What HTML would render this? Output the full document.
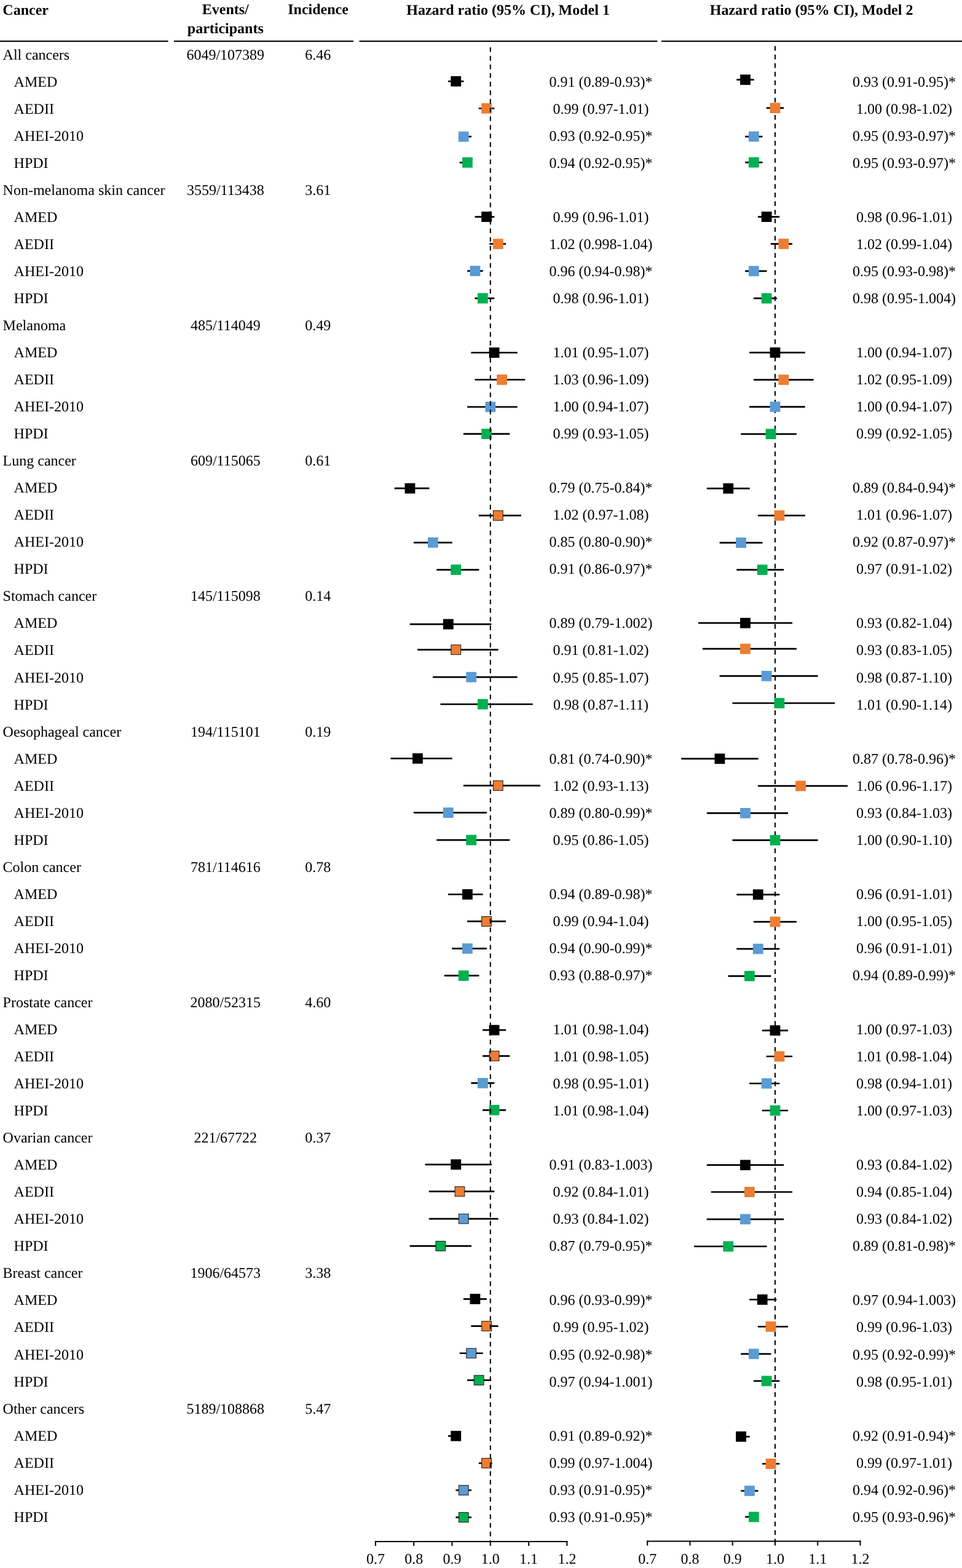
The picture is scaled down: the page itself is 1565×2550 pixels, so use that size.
<!DOCTYPE html>
<html><head><meta charset="utf-8"><title>Forest plot</title>
<style>
html,body{margin:0;padding:0;background:#fff;}
body{width:1565px;height:2550px;overflow:hidden;}
svg{display:block;}
text{text-rendering:geometricPrecision;}
text{font-family:"Liberation Serif","Times New Roman",serif;font-size:24.0px;fill:#000;}
.b{font-weight:bold;font-size:24.0px;}
.m{text-anchor:middle;}
</style></head><body>
<svg width="1565" height="2550" viewBox="0 0 1565 2550">
<rect width="1565" height="2550" fill="#fff"/>

<text class="b" x="4.3" y="23.7">Cancer</text>
<text class="b m" x="366.8" y="23.4">Events/</text>
<text class="b m" x="366.8" y="53.8">participants</text>
<text class="b m" x="517.6" y="23.4">Incidence</text>
<text class="b m" x="826.6" y="23.5">Hazard ratio (95% CI), Model 1</text>
<text class="b m" x="1320.1" y="23.5">Hazard ratio (95% CI), Model 2</text>
<rect x="0" y="66" width="273.5" height="2" fill="#000"/>
<rect x="283" y="66" width="292" height="2" fill="#000"/>
<rect x="584.5" y="66" width="485.0" height="2" fill="#000"/>
<rect x="1076" y="66" width="489" height="2" fill="#000"/>
<text x="4.6" y="96.60">All cancers</text>
<text class="m" x="366.8" y="96.60">6049/107389</text>
<text class="m" x="517.2" y="96.60">6.46</text>
<text x="22.6" y="140.64">AMED</text>
<text class="m" x="977.5" y="140.64">0.91 (0.89-0.93)*</text>
<text class="m" x="1471.0" y="140.64">0.93 (0.91-0.95)*</text>
<text x="22.6" y="184.68">AEDII</text>
<text class="m" x="977.5" y="184.68">0.99 (0.97-1.01)</text>
<text class="m" x="1471.0" y="184.68">1.00 (0.98-1.02)</text>
<text x="22.6" y="228.72">AHEI-2010</text>
<text class="m" x="977.5" y="228.72">0.93 (0.92-0.95)*</text>
<text class="m" x="1471.0" y="228.72">0.95 (0.93-0.97)*</text>
<text x="22.6" y="272.76">HPDI</text>
<text class="m" x="977.5" y="272.76">0.94 (0.92-0.95)*</text>
<text class="m" x="1471.0" y="272.76">0.95 (0.93-0.97)*</text>
<text x="4.6" y="316.80">Non-melanoma skin cancer</text>
<text class="m" x="366.8" y="316.80">3559/113438</text>
<text class="m" x="517.2" y="316.80">3.61</text>
<text x="22.6" y="360.84">AMED</text>
<text class="m" x="977.5" y="360.84">0.99 (0.96-1.01)</text>
<text class="m" x="1471.0" y="360.84">0.98 (0.96-1.01)</text>
<text x="22.6" y="404.88">AEDII</text>
<text class="m" x="977.5" y="404.88">1.02 (0.998-1.04)</text>
<text class="m" x="1471.0" y="404.88">1.02 (0.99-1.04)</text>
<text x="22.6" y="448.92">AHEI-2010</text>
<text class="m" x="977.5" y="448.92">0.96 (0.94-0.98)*</text>
<text class="m" x="1471.0" y="448.92">0.95 (0.93-0.98)*</text>
<text x="22.6" y="492.96">HPDI</text>
<text class="m" x="977.5" y="492.96">0.98 (0.96-1.01)</text>
<text class="m" x="1471.0" y="492.96">0.98 (0.95-1.004)</text>
<text x="4.6" y="537.00">Melanoma</text>
<text class="m" x="366.8" y="537.00">485/114049</text>
<text class="m" x="517.2" y="537.00">0.49</text>
<text x="22.6" y="581.04">AMED</text>
<text class="m" x="977.5" y="581.04">1.01 (0.95-1.07)</text>
<text class="m" x="1471.0" y="581.04">1.00 (0.94-1.07)</text>
<text x="22.6" y="625.08">AEDII</text>
<text class="m" x="977.5" y="625.08">1.03 (0.96-1.09)</text>
<text class="m" x="1471.0" y="625.08">1.02 (0.95-1.09)</text>
<text x="22.6" y="669.12">AHEI-2010</text>
<text class="m" x="977.5" y="669.12">1.00 (0.94-1.07)</text>
<text class="m" x="1471.0" y="669.12">1.00 (0.94-1.07)</text>
<text x="22.6" y="713.16">HPDI</text>
<text class="m" x="977.5" y="713.16">0.99 (0.93-1.05)</text>
<text class="m" x="1471.0" y="713.16">0.99 (0.92-1.05)</text>
<text x="4.6" y="757.20">Lung cancer</text>
<text class="m" x="366.8" y="757.20">609/115065</text>
<text class="m" x="517.2" y="757.20">0.61</text>
<text x="22.6" y="801.24">AMED</text>
<text class="m" x="977.5" y="801.24">0.79 (0.75-0.84)*</text>
<text class="m" x="1471.0" y="801.24">0.89 (0.84-0.94)*</text>
<text x="22.6" y="845.28">AEDII</text>
<text class="m" x="977.5" y="845.28">1.02 (0.97-1.08)</text>
<text class="m" x="1471.0" y="845.28">1.01 (0.96-1.07)</text>
<text x="22.6" y="889.32">AHEI-2010</text>
<text class="m" x="977.5" y="889.32">0.85 (0.80-0.90)*</text>
<text class="m" x="1471.0" y="889.32">0.92 (0.87-0.97)*</text>
<text x="22.6" y="933.36">HPDI</text>
<text class="m" x="977.5" y="933.36">0.91 (0.86-0.97)*</text>
<text class="m" x="1471.0" y="933.36">0.97 (0.91-1.02)</text>
<text x="4.6" y="977.40">Stomach cancer</text>
<text class="m" x="366.8" y="977.40">145/115098</text>
<text class="m" x="517.2" y="977.40">0.14</text>
<text x="22.6" y="1021.44">AMED</text>
<text class="m" x="977.5" y="1021.44">0.89 (0.79-1.002)</text>
<text class="m" x="1471.0" y="1021.44">0.93 (0.82-1.04)</text>
<text x="22.6" y="1065.48">AEDII</text>
<text class="m" x="977.5" y="1065.48">0.91 (0.81-1.02)</text>
<text class="m" x="1471.0" y="1065.48">0.93 (0.83-1.05)</text>
<text x="22.6" y="1109.52">AHEI-2010</text>
<text class="m" x="977.5" y="1109.52">0.95 (0.85-1.07)</text>
<text class="m" x="1471.0" y="1109.52">0.98 (0.87-1.10)</text>
<text x="22.6" y="1153.56">HPDI</text>
<text class="m" x="977.5" y="1153.56">0.98 (0.87-1.11)</text>
<text class="m" x="1471.0" y="1153.56">1.01 (0.90-1.14)</text>
<text x="4.6" y="1197.60">Oesophageal cancer</text>
<text class="m" x="366.8" y="1197.60">194/115101</text>
<text class="m" x="517.2" y="1197.60">0.19</text>
<text x="22.6" y="1241.64">AMED</text>
<text class="m" x="977.5" y="1241.64">0.81 (0.74-0.90)*</text>
<text class="m" x="1471.0" y="1241.64">0.87 (0.78-0.96)*</text>
<text x="22.6" y="1285.68">AEDII</text>
<text class="m" x="977.5" y="1285.68">1.02 (0.93-1.13)</text>
<text class="m" x="1471.0" y="1285.68">1.06 (0.96-1.17)</text>
<text x="22.6" y="1329.72">AHEI-2010</text>
<text class="m" x="977.5" y="1329.72">0.89 (0.80-0.99)*</text>
<text class="m" x="1471.0" y="1329.72">0.93 (0.84-1.03)</text>
<text x="22.6" y="1373.76">HPDI</text>
<text class="m" x="977.5" y="1373.76">0.95 (0.86-1.05)</text>
<text class="m" x="1471.0" y="1373.76">1.00 (0.90-1.10)</text>
<text x="4.6" y="1417.80">Colon cancer</text>
<text class="m" x="366.8" y="1417.80">781/114616</text>
<text class="m" x="517.2" y="1417.80">0.78</text>
<text x="22.6" y="1461.84">AMED</text>
<text class="m" x="977.5" y="1461.84">0.94 (0.89-0.98)*</text>
<text class="m" x="1471.0" y="1461.84">0.96 (0.91-1.01)</text>
<text x="22.6" y="1505.88">AEDII</text>
<text class="m" x="977.5" y="1505.88">0.99 (0.94-1.04)</text>
<text class="m" x="1471.0" y="1505.88">1.00 (0.95-1.05)</text>
<text x="22.6" y="1549.92">AHEI-2010</text>
<text class="m" x="977.5" y="1549.92">0.94 (0.90-0.99)*</text>
<text class="m" x="1471.0" y="1549.92">0.96 (0.91-1.01)</text>
<text x="22.6" y="1593.96">HPDI</text>
<text class="m" x="977.5" y="1593.96">0.93 (0.88-0.97)*</text>
<text class="m" x="1471.0" y="1593.96">0.94 (0.89-0.99)*</text>
<text x="4.6" y="1638.00">Prostate cancer</text>
<text class="m" x="366.8" y="1638.00">2080/52315</text>
<text class="m" x="517.2" y="1638.00">4.60</text>
<text x="22.6" y="1682.04">AMED</text>
<text class="m" x="977.5" y="1682.04">1.01 (0.98-1.04)</text>
<text class="m" x="1471.0" y="1682.04">1.00 (0.97-1.03)</text>
<text x="22.6" y="1726.08">AEDII</text>
<text class="m" x="977.5" y="1726.08">1.01 (0.98-1.05)</text>
<text class="m" x="1471.0" y="1726.08">1.01 (0.98-1.04)</text>
<text x="22.6" y="1770.12">AHEI-2010</text>
<text class="m" x="977.5" y="1770.12">0.98 (0.95-1.01)</text>
<text class="m" x="1471.0" y="1770.12">0.98 (0.94-1.01)</text>
<text x="22.6" y="1814.16">HPDI</text>
<text class="m" x="977.5" y="1814.16">1.01 (0.98-1.04)</text>
<text class="m" x="1471.0" y="1814.16">1.00 (0.97-1.03)</text>
<text x="4.6" y="1858.20">Ovarian cancer</text>
<text class="m" x="366.8" y="1858.20">221/67722</text>
<text class="m" x="517.2" y="1858.20">0.37</text>
<text x="22.6" y="1902.24">AMED</text>
<text class="m" x="977.5" y="1902.24">0.91 (0.83-1.003)</text>
<text class="m" x="1471.0" y="1902.24">0.93 (0.84-1.02)</text>
<text x="22.6" y="1946.28">AEDII</text>
<text class="m" x="977.5" y="1946.28">0.92 (0.84-1.01)</text>
<text class="m" x="1471.0" y="1946.28">0.94 (0.85-1.04)</text>
<text x="22.6" y="1990.32">AHEI-2010</text>
<text class="m" x="977.5" y="1990.32">0.93 (0.84-1.02)</text>
<text class="m" x="1471.0" y="1990.32">0.93 (0.84-1.02)</text>
<text x="22.6" y="2034.36">HPDI</text>
<text class="m" x="977.5" y="2034.36">0.87 (0.79-0.95)*</text>
<text class="m" x="1471.0" y="2034.36">0.89 (0.81-0.98)*</text>
<text x="4.6" y="2078.40">Breast cancer</text>
<text class="m" x="366.8" y="2078.40">1906/64573</text>
<text class="m" x="517.2" y="2078.40">3.38</text>
<text x="22.6" y="2122.44">AMED</text>
<text class="m" x="977.5" y="2122.44">0.96 (0.93-0.99)*</text>
<text class="m" x="1471.0" y="2122.44">0.97 (0.94-1.003)</text>
<text x="22.6" y="2166.48">AEDII</text>
<text class="m" x="977.5" y="2166.48">0.99 (0.95-1.02)</text>
<text class="m" x="1471.0" y="2166.48">0.99 (0.96-1.03)</text>
<text x="22.6" y="2210.52">AHEI-2010</text>
<text class="m" x="977.5" y="2210.52">0.95 (0.92-0.98)*</text>
<text class="m" x="1471.0" y="2210.52">0.95 (0.92-0.99)*</text>
<text x="22.6" y="2254.56">HPDI</text>
<text class="m" x="977.5" y="2254.56">0.97 (0.94-1.001)</text>
<text class="m" x="1471.0" y="2254.56">0.98 (0.95-1.01)</text>
<text x="4.6" y="2298.60">Other cancers</text>
<text class="m" x="366.8" y="2298.60">5189/108868</text>
<text class="m" x="517.2" y="2298.60">5.47</text>
<text x="22.6" y="2342.64">AMED</text>
<text class="m" x="977.5" y="2342.64">0.91 (0.89-0.92)*</text>
<text class="m" x="1471.0" y="2342.64">0.92 (0.91-0.94)*</text>
<text x="22.6" y="2386.68">AEDII</text>
<text class="m" x="977.5" y="2386.68">0.99 (0.97-1.004)</text>
<text class="m" x="1471.0" y="2386.68">0.99 (0.97-1.01)</text>
<text x="22.6" y="2430.72">AHEI-2010</text>
<text class="m" x="977.5" y="2430.72">0.93 (0.91-0.95)*</text>
<text class="m" x="1471.0" y="2430.72">0.94 (0.92-0.96)*</text>
<text x="22.6" y="2474.76">HPDI</text>
<text class="m" x="977.5" y="2474.76">0.93 (0.91-0.95)*</text>
<text class="m" x="1471.0" y="2474.76">0.95 (0.93-0.96)*</text>
<rect x="728.87" y="130.90" width="25.72" height="2.7" rx="0.7" fill="#000"/>
<rect x="778.71" y="174.90" width="25.72" height="2.7" rx="0.7" fill="#000"/>
<rect x="747.56" y="220.85" width="19.49" height="2.7" rx="0.7" fill="#000"/>
<rect x="747.56" y="262.95" width="19.49" height="2.7" rx="0.7" fill="#000"/>
<rect x="772.48" y="351.20" width="31.95" height="2.7" rx="0.7" fill="#000"/>
<rect x="796.15" y="395.35" width="26.97" height="2.7" rx="0.7" fill="#000"/>
<rect x="760.02" y="439.30" width="25.72" height="2.7" rx="0.7" fill="#000"/>
<rect x="772.48" y="483.75" width="31.95" height="2.7" rx="0.7" fill="#000"/>
<rect x="766.25" y="572.15" width="75.56" height="2.7" rx="0.7" fill="#000"/>
<rect x="772.48" y="616.15" width="81.79" height="2.7" rx="0.7" fill="#000"/>
<rect x="760.02" y="660.40" width="81.79" height="2.7" rx="0.7" fill="#000"/>
<rect x="753.79" y="704.30" width="75.56" height="2.7" rx="0.7" fill="#000"/>
<rect x="641.65" y="792.85" width="56.87" height="2.7" rx="0.7" fill="#000"/>
<rect x="778.71" y="837.05" width="69.33" height="2.7" rx="0.7" fill="#000"/>
<rect x="672.80" y="881.00" width="63.10" height="2.7" rx="0.7" fill="#000"/>
<rect x="710.18" y="925.20" width="69.33" height="2.7" rx="0.7" fill="#000"/>
<rect x="666.57" y="1013.75" width="132.88" height="2.7" rx="0.7" fill="#000"/>
<rect x="679.03" y="1055.35" width="131.63" height="2.7" rx="0.7" fill="#000"/>
<rect x="703.95" y="1099.85" width="137.86" height="2.7" rx="0.7" fill="#000"/>
<rect x="716.41" y="1143.90" width="150.32" height="2.7" rx="0.7" fill="#000"/>
<rect x="635.42" y="1232.15" width="100.48" height="2.7" rx="0.7" fill="#000"/>
<rect x="753.79" y="1276.25" width="125.40" height="2.7" rx="0.7" fill="#000"/>
<rect x="672.80" y="1320.35" width="119.17" height="2.7" rx="0.7" fill="#000"/>
<rect x="710.18" y="1364.80" width="119.17" height="2.7" rx="0.7" fill="#000"/>
<rect x="728.87" y="1453.15" width="56.87" height="2.7" rx="0.7" fill="#000"/>
<rect x="760.02" y="1497.10" width="63.10" height="2.7" rx="0.7" fill="#000"/>
<rect x="735.10" y="1541.25" width="56.87" height="2.7" rx="0.7" fill="#000"/>
<rect x="722.64" y="1585.35" width="56.87" height="2.7" rx="0.7" fill="#000"/>
<rect x="784.94" y="1673.85" width="38.18" height="2.7" rx="0.7" fill="#000"/>
<rect x="784.94" y="1715.95" width="44.41" height="2.7" rx="0.7" fill="#000"/>
<rect x="766.25" y="1760.10" width="38.18" height="2.7" rx="0.7" fill="#000"/>
<rect x="784.94" y="1803.95" width="38.18" height="2.7" rx="0.7" fill="#000"/>
<rect x="691.49" y="1892.45" width="108.58" height="2.7" rx="0.7" fill="#000"/>
<rect x="697.72" y="1936.35" width="106.71" height="2.7" rx="0.7" fill="#000"/>
<rect x="697.72" y="1980.75" width="112.94" height="2.7" rx="0.7" fill="#000"/>
<rect x="666.57" y="2025.05" width="100.48" height="2.7" rx="0.7" fill="#000"/>
<rect x="753.79" y="2111.20" width="38.18" height="2.7" rx="0.7" fill="#000"/>
<rect x="766.25" y="2155.30" width="44.41" height="2.7" rx="0.7" fill="#000"/>
<rect x="747.56" y="2199.40" width="38.18" height="2.7" rx="0.7" fill="#000"/>
<rect x="760.02" y="2243.30" width="38.80" height="2.7" rx="0.7" fill="#000"/>
<rect x="728.87" y="2333.95" width="19.49" height="2.7" rx="0.7" fill="#000"/>
<rect x="778.71" y="2378.15" width="21.98" height="2.7" rx="0.7" fill="#000"/>
<rect x="741.33" y="2422.15" width="25.72" height="2.7" rx="0.7" fill="#000"/>
<rect x="741.33" y="2466.25" width="25.72" height="2.7" rx="0.7" fill="#000"/>
<rect x="733.33" y="123.85" width="16.80" height="16.80" fill="#000000"/>
<rect x="783.17" y="167.85" width="16.80" height="16.80" fill="#ED7D31"/>
<rect x="745.79" y="213.80" width="16.80" height="16.80" fill="#5B9BD5"/>
<rect x="752.02" y="255.90" width="16.80" height="16.80" fill="#00B050"/>
<rect x="783.17" y="344.15" width="16.80" height="16.80" fill="#000000"/>
<rect x="801.86" y="388.30" width="16.80" height="16.80" fill="#ED7D31"/>
<rect x="764.48" y="432.25" width="16.80" height="16.80" fill="#5B9BD5"/>
<rect x="776.94" y="476.70" width="16.80" height="16.80" fill="#00B050"/>
<rect x="795.63" y="565.10" width="16.80" height="16.80" fill="#000000"/>
<rect x="808.09" y="609.10" width="16.80" height="16.80" fill="#ED7D31"/>
<rect x="789.40" y="653.35" width="16.80" height="16.80" fill="#5B9BD5"/>
<rect x="783.17" y="697.25" width="16.80" height="16.80" fill="#00B050"/>
<rect x="658.57" y="785.80" width="16.80" height="16.80" fill="#000000"/>
<rect x="802.36" y="830.50" width="15.80" height="15.80" fill="#ED7D31" stroke="#1a1a1a" stroke-width="1"/>
<rect x="695.95" y="873.95" width="16.80" height="16.80" fill="#5B9BD5"/>
<rect x="733.33" y="918.15" width="16.80" height="16.80" fill="#00B050"/>
<rect x="720.87" y="1006.70" width="16.80" height="16.80" fill="#000000"/>
<rect x="733.83" y="1048.80" width="15.80" height="15.80" fill="#ED7D31" stroke="#1a1a1a" stroke-width="1"/>
<rect x="758.25" y="1092.80" width="16.80" height="16.80" fill="#5B9BD5"/>
<rect x="776.94" y="1136.85" width="16.80" height="16.80" fill="#00B050"/>
<rect x="671.03" y="1225.10" width="16.80" height="16.80" fill="#000000"/>
<rect x="802.36" y="1269.70" width="15.80" height="15.80" fill="#ED7D31" stroke="#1a1a1a" stroke-width="1"/>
<rect x="720.87" y="1313.30" width="16.80" height="16.80" fill="#5B9BD5"/>
<rect x="758.25" y="1357.75" width="16.80" height="16.80" fill="#00B050"/>
<rect x="752.02" y="1446.10" width="16.80" height="16.80" fill="#000000"/>
<rect x="783.67" y="1490.55" width="15.80" height="15.80" fill="#ED7D31" stroke="#1a1a1a" stroke-width="1"/>
<rect x="752.02" y="1534.20" width="16.80" height="16.80" fill="#5B9BD5"/>
<rect x="745.79" y="1578.30" width="16.80" height="16.80" fill="#00B050"/>
<rect x="795.63" y="1666.80" width="16.80" height="16.80" fill="#000000"/>
<rect x="796.13" y="1709.40" width="15.80" height="15.80" fill="#ED7D31" stroke="#1a1a1a" stroke-width="1"/>
<rect x="776.94" y="1753.05" width="16.80" height="16.80" fill="#5B9BD5"/>
<rect x="795.63" y="1796.90" width="16.80" height="16.80" fill="#00B050"/>
<rect x="733.33" y="1885.40" width="16.80" height="16.80" fill="#000000"/>
<rect x="740.06" y="1929.80" width="15.80" height="15.80" fill="#ED7D31" stroke="#1a1a1a" stroke-width="1"/>
<rect x="746.29" y="1974.20" width="15.80" height="15.80" fill="#5B9BD5" stroke="#1a1a1a" stroke-width="1"/>
<rect x="708.91" y="2018.50" width="15.80" height="15.80" fill="#00B050" stroke="#1a1a1a" stroke-width="1"/>
<rect x="764.48" y="2104.15" width="16.80" height="16.80" fill="#000000"/>
<rect x="783.67" y="2148.75" width="15.80" height="15.80" fill="#ED7D31" stroke="#1a1a1a" stroke-width="1"/>
<rect x="758.75" y="2192.85" width="15.80" height="15.80" fill="#5B9BD5" stroke="#1a1a1a" stroke-width="1"/>
<rect x="771.21" y="2236.75" width="15.80" height="15.80" fill="#00B050" stroke="#1a1a1a" stroke-width="1"/>
<rect x="733.33" y="2326.90" width="16.80" height="16.80" fill="#000000"/>
<rect x="783.67" y="2371.60" width="15.80" height="15.80" fill="#ED7D31" stroke="#1a1a1a" stroke-width="1"/>
<rect x="746.29" y="2415.60" width="15.80" height="15.80" fill="#5B9BD5" stroke="#1a1a1a" stroke-width="1"/>
<rect x="746.29" y="2459.70" width="15.80" height="15.80" fill="#00B050" stroke="#1a1a1a" stroke-width="1"/>
<line x1="797.80" y1="76.9" x2="797.80" y2="2506" stroke="#000" stroke-width="2" stroke-dasharray="7.7 6.334"/>
<rect x="609.90" y="2506" width="313.50" height="2" fill="#000"/>
<rect x="609.90" y="2506" width="2" height="8" fill="#000"/>
<text class="m" x="610.90" y="2542.7">0.7</text>
<rect x="672.20" y="2506" width="2" height="8" fill="#000"/>
<text class="m" x="673.20" y="2542.7">0.8</text>
<rect x="734.50" y="2506" width="2" height="8" fill="#000"/>
<text class="m" x="735.50" y="2542.7">0.9</text>
<rect x="796.80" y="2506" width="2" height="8" fill="#000"/>
<text class="m" x="797.80" y="2542.7">1.0</text>
<rect x="859.10" y="2506" width="2" height="8" fill="#000"/>
<text class="m" x="860.10" y="2542.7">1.1</text>
<rect x="921.40" y="2506" width="2" height="8" fill="#000"/>
<text class="m" x="922.40" y="2542.7">1.2</text>
<rect x="1198.22" y="128.35" width="28.50" height="2.7" rx="0.7" fill="#000"/>
<rect x="1246.70" y="174.30" width="28.50" height="2.7" rx="0.7" fill="#000"/>
<rect x="1212.08" y="220.70" width="28.50" height="2.7" rx="0.7" fill="#000"/>
<rect x="1212.08" y="262.75" width="28.50" height="2.7" rx="0.7" fill="#000"/>
<rect x="1232.85" y="351.20" width="35.42" height="2.7" rx="0.7" fill="#000"/>
<rect x="1253.62" y="395.20" width="35.42" height="2.7" rx="0.7" fill="#000"/>
<rect x="1212.08" y="439.50" width="35.42" height="2.7" rx="0.7" fill="#000"/>
<rect x="1225.92" y="483.85" width="38.19" height="2.7" rx="0.7" fill="#000"/>
<rect x="1219.00" y="572.00" width="90.83" height="2.7" rx="0.7" fill="#000"/>
<rect x="1225.92" y="616.25" width="97.75" height="2.7" rx="0.7" fill="#000"/>
<rect x="1219.00" y="660.20" width="90.83" height="2.7" rx="0.7" fill="#000"/>
<rect x="1205.15" y="704.45" width="90.82" height="2.7" rx="0.7" fill="#000"/>
<rect x="1149.75" y="793.00" width="70.05" height="2.7" rx="0.7" fill="#000"/>
<rect x="1232.85" y="837.00" width="76.98" height="2.7" rx="0.7" fill="#000"/>
<rect x="1170.53" y="881.20" width="70.05" height="2.7" rx="0.7" fill="#000"/>
<rect x="1198.22" y="925.35" width="76.98" height="2.7" rx="0.7" fill="#000"/>
<rect x="1135.90" y="1011.85" width="153.15" height="2.7" rx="0.7" fill="#000"/>
<rect x="1142.83" y="1053.85" width="153.15" height="2.7" rx="0.7" fill="#000"/>
<rect x="1170.53" y="1098.05" width="160.08" height="2.7" rx="0.7" fill="#000"/>
<rect x="1191.30" y="1142.15" width="167.00" height="2.7" rx="0.7" fill="#000"/>
<rect x="1108.20" y="1232.55" width="125.45" height="2.7" rx="0.7" fill="#000"/>
<rect x="1232.85" y="1276.75" width="146.22" height="2.7" rx="0.7" fill="#000"/>
<rect x="1149.75" y="1321.05" width="132.38" height="2.7" rx="0.7" fill="#000"/>
<rect x="1191.30" y="1365.05" width="139.30" height="2.7" rx="0.7" fill="#000"/>
<rect x="1198.22" y="1453.45" width="70.05" height="2.7" rx="0.7" fill="#000"/>
<rect x="1225.92" y="1497.75" width="70.05" height="2.7" rx="0.7" fill="#000"/>
<rect x="1198.22" y="1541.75" width="70.05" height="2.7" rx="0.7" fill="#000"/>
<rect x="1184.38" y="1585.95" width="70.05" height="2.7" rx="0.7" fill="#000"/>
<rect x="1239.78" y="1674.45" width="42.35" height="2.7" rx="0.7" fill="#000"/>
<rect x="1246.70" y="1716.65" width="42.35" height="2.7" rx="0.7" fill="#000"/>
<rect x="1219.00" y="1760.65" width="49.27" height="2.7" rx="0.7" fill="#000"/>
<rect x="1239.78" y="1804.65" width="42.35" height="2.7" rx="0.7" fill="#000"/>
<rect x="1149.75" y="1893.35" width="125.45" height="2.7" rx="0.7" fill="#000"/>
<rect x="1156.67" y="1937.15" width="132.38" height="2.7" rx="0.7" fill="#000"/>
<rect x="1149.75" y="1981.45" width="125.45" height="2.7" rx="0.7" fill="#000"/>
<rect x="1128.97" y="2025.65" width="118.53" height="2.7" rx="0.7" fill="#000"/>
<rect x="1219.00" y="2112.15" width="44.43" height="2.7" rx="0.7" fill="#000"/>
<rect x="1232.85" y="2156.15" width="49.28" height="2.7" rx="0.7" fill="#000"/>
<rect x="1205.15" y="2200.50" width="49.27" height="2.7" rx="0.7" fill="#000"/>
<rect x="1225.92" y="2244.55" width="42.35" height="2.7" rx="0.7" fill="#000"/>
<rect x="1198.22" y="2334.95" width="21.58" height="2.7" rx="0.7" fill="#000"/>
<rect x="1239.78" y="2379.15" width="28.50" height="2.7" rx="0.7" fill="#000"/>
<rect x="1205.15" y="2423.15" width="28.50" height="2.7" rx="0.7" fill="#000"/>
<rect x="1212.08" y="2465.60" width="21.57" height="2.7" rx="0.7" fill="#000"/>
<line x1="1260.95" y1="74.7" x2="1260.95" y2="2506" stroke="#000" stroke-width="2" stroke-dasharray="7.7 6.334"/>
<rect x="1204.08" y="121.30" width="16.80" height="16.80" fill="#000000"/>
<rect x="1252.55" y="167.25" width="16.80" height="16.80" fill="#ED7D31"/>
<rect x="1217.92" y="213.65" width="16.80" height="16.80" fill="#5B9BD5"/>
<rect x="1217.92" y="255.70" width="16.80" height="16.80" fill="#00B050"/>
<rect x="1238.70" y="344.15" width="16.80" height="16.80" fill="#000000"/>
<rect x="1266.40" y="388.15" width="16.80" height="16.80" fill="#ED7D31"/>
<rect x="1217.92" y="432.45" width="16.80" height="16.80" fill="#5B9BD5"/>
<rect x="1238.70" y="476.80" width="16.80" height="16.80" fill="#00B050"/>
<rect x="1252.55" y="564.95" width="16.80" height="16.80" fill="#000000"/>
<rect x="1266.40" y="609.20" width="16.80" height="16.80" fill="#ED7D31"/>
<rect x="1252.55" y="653.15" width="16.80" height="16.80" fill="#5B9BD5"/>
<rect x="1245.62" y="697.40" width="16.80" height="16.80" fill="#00B050"/>
<rect x="1176.38" y="785.95" width="16.80" height="16.80" fill="#000000"/>
<rect x="1259.47" y="829.95" width="16.80" height="16.80" fill="#ED7D31"/>
<rect x="1197.15" y="874.15" width="16.80" height="16.80" fill="#5B9BD5"/>
<rect x="1231.78" y="918.30" width="16.80" height="16.80" fill="#00B050"/>
<rect x="1204.08" y="1004.80" width="16.80" height="16.80" fill="#000000"/>
<rect x="1204.08" y="1046.80" width="16.80" height="16.80" fill="#ED7D31"/>
<rect x="1238.70" y="1091.00" width="16.80" height="16.80" fill="#5B9BD5"/>
<rect x="1259.47" y="1135.10" width="16.80" height="16.80" fill="#00B050"/>
<rect x="1162.53" y="1225.50" width="16.80" height="16.80" fill="#000000"/>
<rect x="1294.10" y="1269.70" width="16.80" height="16.80" fill="#ED7D31"/>
<rect x="1204.08" y="1314.00" width="16.80" height="16.80" fill="#5B9BD5"/>
<rect x="1252.55" y="1358.00" width="16.80" height="16.80" fill="#00B050"/>
<rect x="1224.85" y="1446.40" width="16.80" height="16.80" fill="#000000"/>
<rect x="1252.55" y="1490.70" width="16.80" height="16.80" fill="#ED7D31"/>
<rect x="1224.85" y="1534.70" width="16.80" height="16.80" fill="#5B9BD5"/>
<rect x="1211.00" y="1578.90" width="16.80" height="16.80" fill="#00B050"/>
<rect x="1252.55" y="1667.40" width="16.80" height="16.80" fill="#000000"/>
<rect x="1259.47" y="1709.60" width="16.80" height="16.80" fill="#ED7D31"/>
<rect x="1238.70" y="1753.60" width="16.80" height="16.80" fill="#5B9BD5"/>
<rect x="1252.55" y="1797.60" width="16.80" height="16.80" fill="#00B050"/>
<rect x="1204.08" y="1886.30" width="16.80" height="16.80" fill="#000000"/>
<rect x="1211.00" y="1930.10" width="16.80" height="16.80" fill="#ED7D31"/>
<rect x="1204.08" y="1974.40" width="16.80" height="16.80" fill="#5B9BD5"/>
<rect x="1176.38" y="2018.60" width="16.80" height="16.80" fill="#00B050"/>
<rect x="1231.78" y="2105.10" width="16.80" height="16.80" fill="#000000"/>
<rect x="1245.62" y="2149.10" width="16.80" height="16.80" fill="#ED7D31"/>
<rect x="1217.92" y="2193.45" width="16.80" height="16.80" fill="#5B9BD5"/>
<rect x="1238.70" y="2237.50" width="16.80" height="16.80" fill="#00B050"/>
<rect x="1197.15" y="2327.90" width="16.80" height="16.80" fill="#000000"/>
<rect x="1245.62" y="2372.10" width="16.80" height="16.80" fill="#ED7D31"/>
<rect x="1211.00" y="2416.10" width="16.80" height="16.80" fill="#5B9BD5"/>
<rect x="1217.92" y="2458.55" width="16.80" height="16.80" fill="#00B050"/>
<rect x="1052.20" y="2505.5" width="348.25" height="2" fill="#000"/>
<rect x="1052.20" y="2505.5" width="2" height="8" fill="#000"/>
<text class="m" x="1053.20" y="2542.7">0.7</text>
<rect x="1121.45" y="2505.5" width="2" height="8" fill="#000"/>
<text class="m" x="1122.45" y="2542.7">0.8</text>
<rect x="1190.70" y="2505.5" width="2" height="8" fill="#000"/>
<text class="m" x="1191.70" y="2542.7">0.9</text>
<rect x="1259.95" y="2505.5" width="2" height="8" fill="#000"/>
<text class="m" x="1260.95" y="2542.7">1.0</text>
<rect x="1329.20" y="2505.5" width="2" height="8" fill="#000"/>
<text class="m" x="1330.20" y="2542.7">1.1</text>
<rect x="1398.45" y="2505.5" width="2" height="8" fill="#000"/>
<text class="m" x="1399.45" y="2542.7">1.2</text>
</svg>
</body></html>
